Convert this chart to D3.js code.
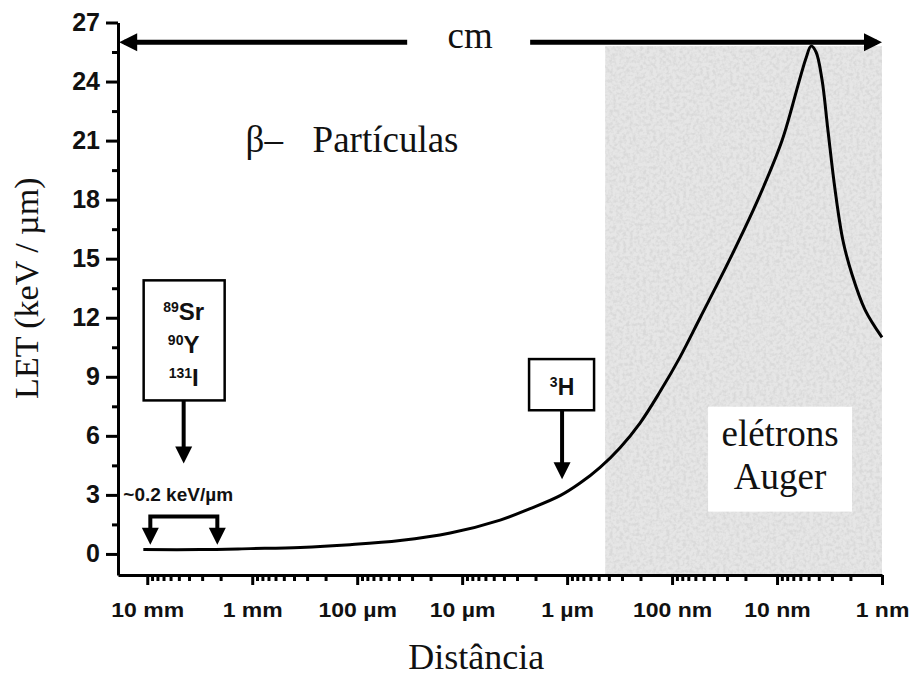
<html>
<head>
<meta charset="utf-8">
<script src="https://d3js.org/d3.v7.min.js"></script>
<style>
  body { margin: 0; background: #fff; }
  svg { display: block; }
  .serif { font-family: "Liberation Serif", "Times New Roman", serif; fill: #111; }
  .sans { font-family: "Liberation Sans", Arial, sans-serif; font-weight: bold; fill: #111; }
  .axis path, .axis line { stroke: #000; stroke-width: 3; }
  .axis text { font-family: "Liberation Sans", Arial, sans-serif; font-weight: bold; fill: #111; }
</style>
</head>
<body>
<svg id="chart" width="909" height="677"></svg>
<script>
// distance in nm, LET in keV/um
var xMajor = [1e7, 1e6, 1e5, 1e4, 1e3, 1e2, 1e1, 1];
var xLabels = ["10 mm", "1 mm", "100 µm", "10 µm", "1 µm", "100 nm", "10 nm", "1 nm"];
var yMajor = [0, 3, 6, 9, 12, 15, 18, 21, 24, 27];
var yMinor = [1.5, 4.5, 7.5, 10.5, 13.5, 16.5, 19.5, 22.5, 25.5];

var curveDist = [1.09e7, 3.13e6, 1.04e6, 3.49e5, 1.17e5, 3.9e4, 1.3e4, 4345, 2250, 1166, 752, 485, 313, 202, 130, 84, 54, 28, 15.2, 8.96, 6.17, 5.29, 4.74, 4.25, 3.73, 3.27, 2.8, 2.35, 1.93, 1.45, 1];
var curveLET  = [0.22, 0.22, 0.27, 0.33, 0.47, 0.68, 1.06, 1.72, 2.3, 2.96, 3.6, 4.4, 5.4, 6.65, 8.25, 10.0, 12.0, 15.0, 18.0, 21.0, 24.0, 25.2, 25.8, 25.5, 24.1, 21.5, 18.5, 15.9, 14.2, 12.4, 11.0];

var augerRange = [434, 1];   // shaded region (nm)
var augerTop = 25.8;
var topArrowLET = 26;

var init = function() {
  var svg = d3.select("#chart");
  var x = d3.scaleLog().domain([1.9e7, 1]).range([118, 882]);
  var y = d3.scaleLinear().domain([-1.07, 27]).range([575, 22.5]);

  var defs = svg.append("defs");
  var f = defs.append("filter").attr("id", "speckle").attr("x", 0).attr("y", 0).attr("width", 1).attr("height", 1);
  f.append("feTurbulence").attr("type", "fractalNoise").attr("baseFrequency", 0.3).attr("numOctaves", 2).attr("seed", 4);
  f.append("feColorMatrix").attr("type", "matrix")
    .attr("values", "0 0 0 0 0.5  0 0 0 0 0.5  0 0 0 0 0.5  3 0 0 0 -1.2");
  f.append("feComposite").attr("in2", "SourceGraphic").attr("operator", "in");

  // shaded Auger region
  var gx0 = x(augerRange[0]), gw = x(augerRange[1]) - x(augerRange[0]);
  svg.append("rect")
    .attr("x", gx0).attr("width", gw)
    .attr("y", y(augerTop)).attr("height", y(-1.07) - y(augerTop))
    .attr("fill", "#e6e6e6");
  svg.append("rect")
    .attr("x", gx0).attr("width", gw)
    .attr("y", y(augerTop)).attr("height", y(-1.07) - y(augerTop))
    .attr("fill", "#000").attr("opacity", 0.3).attr("filter", "url(#speckle)");
  // white label box
  svg.append("rect")
    .attr("x", x(45.4)).attr("width", x(1.93) - x(45.4))
    .attr("y", y(7.48)).attr("height", y(2.15) - y(7.48))
    .attr("fill", "#fff");
  svg.append("text").attr("class", "serif")
    .attr("x", x(9.36)).attr("y", y(5.5)).attr("text-anchor", "middle")
    .style("font-size", "37px").text("elétrons");
  svg.append("text").attr("class", "serif")
    .attr("x", x(9.36)).attr("y", y(3.3)).attr("text-anchor", "middle")
    .style("font-size", "37px").text("Auger");

  // curve
  var pts = curveDist.map(function(d, i) { return [d, curveLET[i]]; });
  var line = d3.line()
    .x(function(d) { return x(d[0]); })
    .y(function(d) { return y(d[1]); })
    .curve(d3.curveCatmullRom.alpha(0.5));
  svg.append("path").attr("d", line(pts))
    .attr("fill", "none").attr("stroke", "#000").attr("stroke-width", 3);

  // axes
  var gy = svg.append("g").attr("class", "axis").attr("transform", "translate(118,0)");
  gy.call(d3.axisLeft(y).tickValues(yMajor).tickSize(12).tickSizeOuter(0).tickPadding(6));
  gy.selectAll("text").style("font-size", "25px");
  svg.append("g").attr("class", "axis").attr("transform", "translate(118,0)")
    .call(d3.axisLeft(y).tickValues(yMinor).tickSize(6).tickFormat(""))
    .select(".domain").remove();

  var minor = [];
  xMajor.forEach(function(m) {
    for (var k = 2; k <= 9; k++) {
      var v = m * k;
      if (v < 1.9e7 && v > 1) minor.push(v);
    }
  });
  var gx = svg.append("g").attr("class", "axis").attr("transform", "translate(0,575)");
  gx.call(d3.axisBottom(x).tickValues(xMajor).tickSize(10).tickSizeOuter(0).tickPadding(18)
    .tickFormat(function(d, i) { return xLabels[i]; }));
  gx.selectAll("text").style("font-size", "20px")
    .attr("transform", "scale(1.15,1)");
  svg.append("g").attr("class", "axis").attr("transform", "translate(0,575)")
    .call(d3.axisBottom(x).tickValues(minor).tickSize(6).tickFormat(""))
    .select(".domain").remove();

  // arrows
  function headPath(tx, ty, dir, len, half) {
    if (dir == "l") return "M" + tx + "," + ty + "L" + (tx + len) + "," + (ty - half) + "L" + (tx + len) + "," + (ty + half) + "Z";
    if (dir == "r") return "M" + tx + "," + ty + "L" + (tx - len) + "," + (ty - half) + "L" + (tx - len) + "," + (ty + half) + "Z";
    return "M" + tx + "," + ty + "L" + (tx - half) + "," + (ty - len) + "L" + (tx + half) + "," + (ty - len) + "Z";
  }
  var ya = y(topArrowLET);
  svg.append("line").attr("x1", x(1.85e7) + 5).attr("x2", x(3.34e4)).attr("y1", ya).attr("y2", ya)
    .attr("stroke", "#000").attr("stroke-width", 5);
  svg.append("line").attr("x1", x(2250)).attr("x2", x(1) - 5).attr("y1", ya).attr("y2", ya)
    .attr("stroke", "#000").attr("stroke-width", 5);
  svg.append("path").attr("d", headPath(x(1.85e7), ya, "l", 18, 9));
  svg.append("path").attr("d", headPath(x(1), ya, "r", 18, 9));
  svg.append("text").attr("class", "serif")
    .attr("x", x(8400)).attr("y", y(25.7)).attr("text-anchor", "middle")
    .style("font-size", "37px").text("cm");

  svg.append("text").attr("class", "serif")
    .attr("x", x(3.1e5) - 60).attr("y", y(20.4))
    .style("font-size", "37px").text("β–");
  svg.append("text").attr("class", "serif")
    .attr("x", x(3.1e5) + 7).attr("y", y(20.4))
    .style("font-size", "37px").text("Partículas");

  // isotope box: 89Sr 90Y 131I
  var bx = x(4.5e6);
  svg.append("rect").attr("x", bx - 40).attr("y", y(13.9)).attr("width", 81).attr("height", y(7.8) - y(13.9))
    .attr("fill", "#fff").attr("stroke", "#000").attr("stroke-width", 2.5);
  [["89", "Sr", 11.9], ["90", "Y", 10.2], ["131", "I", 8.55]].forEach(function(r) {
    var t = svg.append("text").attr("class", "sans").attr("x", bx).attr("y", y(r[2]))
      .attr("text-anchor", "middle");
    t.append("tspan").style("font-size", "14px").attr("dy", -8).text(r[0]);
    t.append("tspan").style("font-size", "24px").attr("dy", 8).text(r[1]);
  });
  svg.append("line").attr("x1", bx).attr("x2", bx).attr("y1", y(7.8)).attr("y2", y(4.6) - 14)
    .attr("stroke", "#000").attr("stroke-width", 4);
  svg.append("path").attr("d", headPath(bx, y(4.6), "d", 17, 8.5));

  // 3H box
  var hx = x(1117);
  svg.append("rect").attr("x", hx - 33).attr("y", y(9.9)).attr("width", 65).attr("height", y(7.3) - y(9.9))
    .attr("fill", "#fff").attr("stroke", "#000").attr("stroke-width", 2.5);
  var th = svg.append("text").attr("class", "sans").attr("x", hx).attr("y", y(8.05)).attr("text-anchor", "middle");
  th.append("tspan").style("font-size", "14px").attr("dy", -8).text("3");
  th.append("tspan").style("font-size", "23px").attr("dy", 8).text("H");
  svg.append("line").attr("x1", hx).attr("x2", hx).attr("y1", y(7.3)).attr("y2", y(3.8) - 14)
    .attr("stroke", "#000").attr("stroke-width", 4);
  svg.append("path").attr("d", headPath(hx, y(3.8), "d", 17, 8.5));

  // ~0.2 keV/um bracket
  var b0 = x(9.35e6), b1 = x(2.15e6), bt = y(1.9), bb = y(0.47);
  svg.append("path").attr("d", "M" + b0 + "," + (bb - 14) + "V" + bt + "H" + b1 + "V" + (bb - 14))
    .attr("fill", "none").attr("stroke", "#000").attr("stroke-width", 4);
  svg.append("path").attr("d", headPath(b0, bb, "d", 17, 8.5));
  svg.append("path").attr("d", headPath(b1, bb, "d", 17, 8.5));
  svg.append("text").attr("class", "sans").attr("x", b0 - 27).attr("y", y(2.7))
    .style("font-size", "19px").text("~0.2 keV/µm");

  // axis titles
  svg.append("text").attr("class", "serif")
    .attr("transform", "translate(38," + y(13.5) + ") rotate(-90)")
    .attr("text-anchor", "middle").style("font-size", "34px").text("LET (keV / µm)");
  svg.append("text").attr("class", "serif")
    .attr("x", x(1e4) + 14).attr("y", 669).attr("text-anchor", "middle")
    .style("font-size", "36px").text("Distância");
};
init();
</script>
</body>
</html>
